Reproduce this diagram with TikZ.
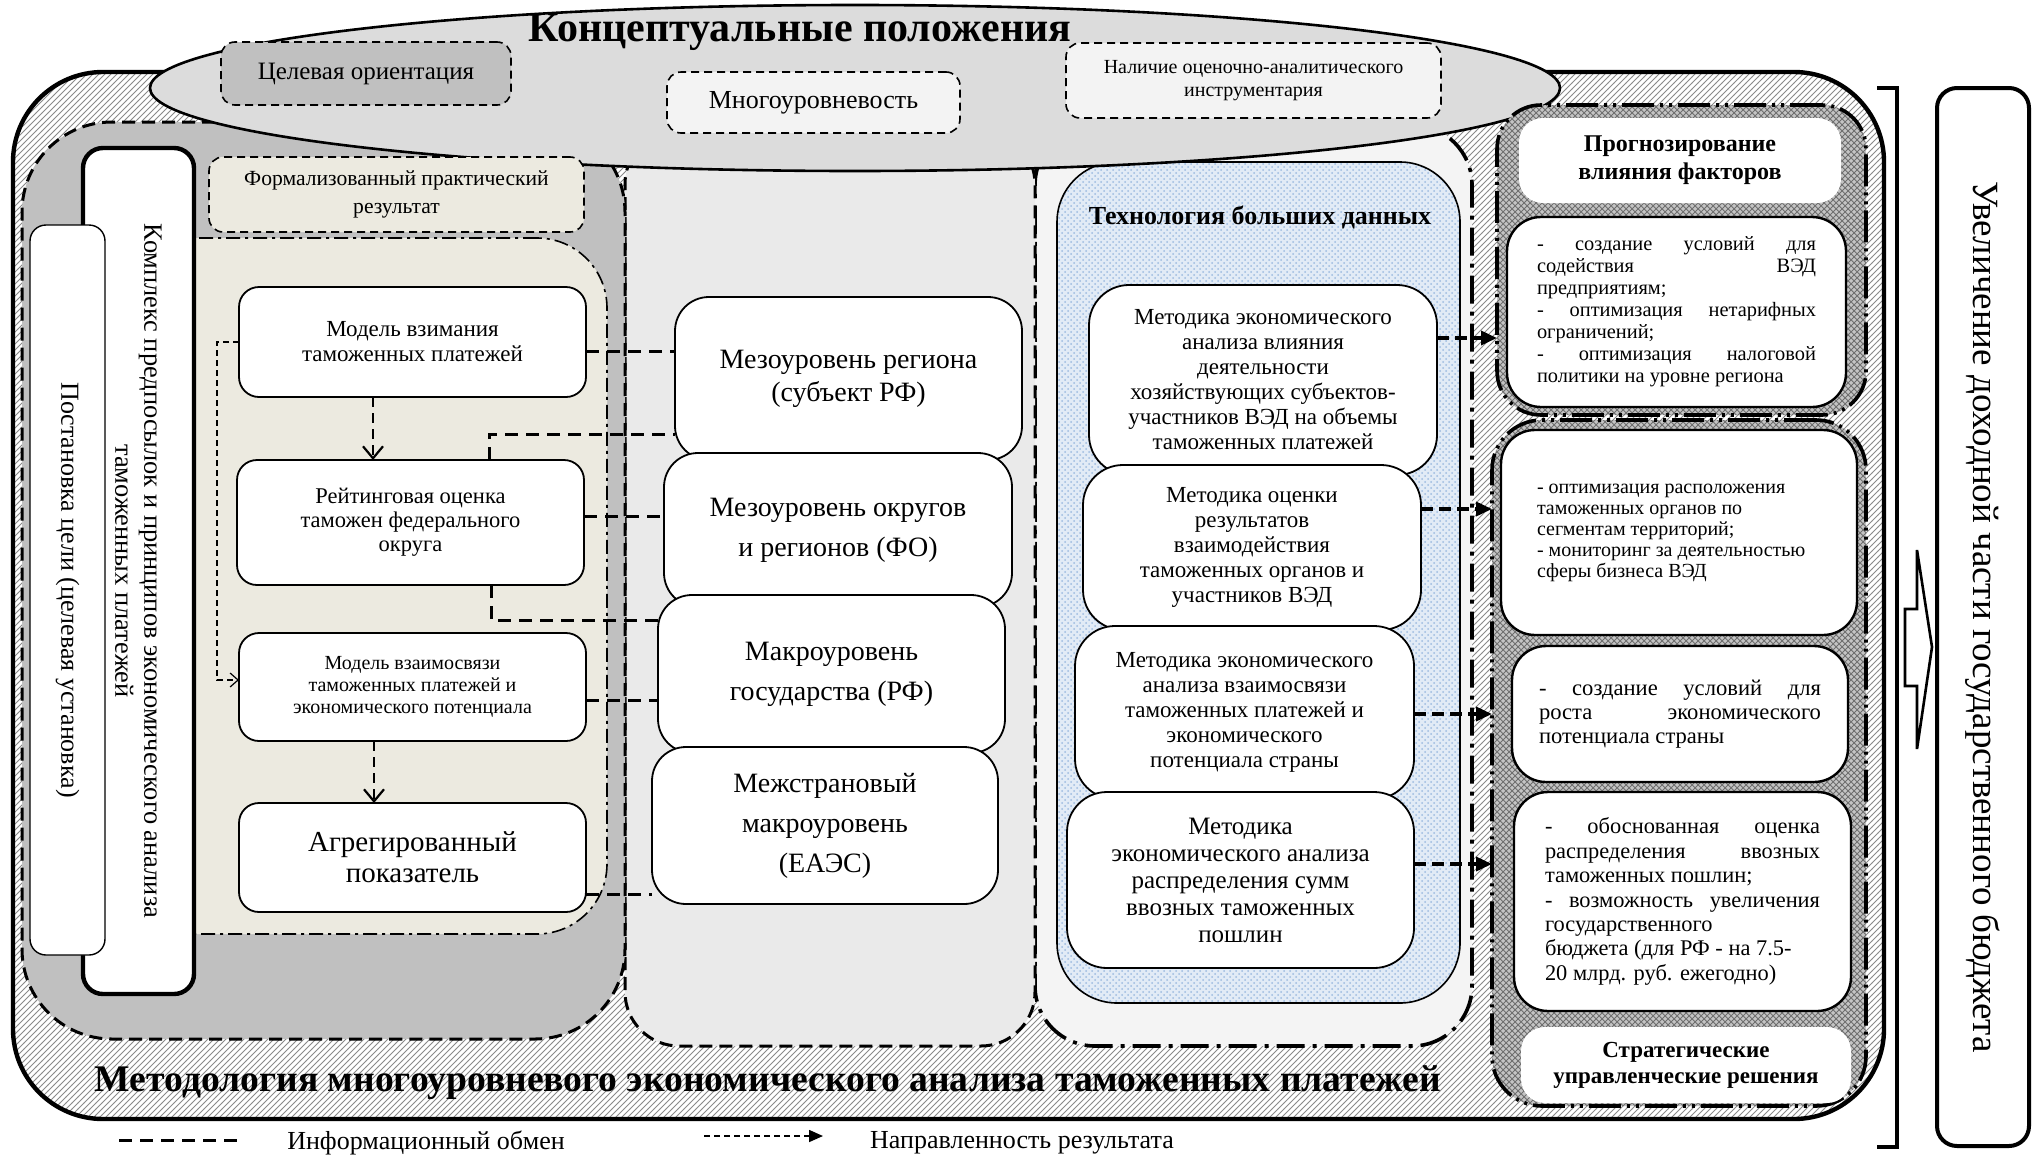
\documentclass[tikz,border=0pt]{standalone}
\usepackage{fontspec}
\setmainfont{Liberation Serif}
\usetikzlibrary{shapes.geometric,patterns,arrows.meta}
\definecolor{cgrey}{HTML}{C0C0C0}
\definecolor{cell}{HTML}{DCDCDC}
\definecolor{cbeige}{HTML}{ECEAE0}
\definecolor{cmid}{HTML}{EAEAEA}
\definecolor{ctech}{HTML}{F4F4F4}
\definecolor{cblue}{HTML}{E2EBF6}
\definecolor{cbluedot}{HTML}{9DBBE0}
\definecolor{cres}{HTML}{C4C4C4}
\definecolor{cresline}{HTML}{6E6E6E}
\definecolor{chatch}{HTML}{8A8A8A}
\definecolor{clight}{HTML}{F3F3F3}
\newcommand\mybox[7]{%
  \pgfmathsetmacro\bxcx{(#3+#5)/2}%
  \pgfmathsetmacro\bxcy{(#4+#6)/2}%
  \pgfmathsetmacro\bxw{(#5-#3)/2}%
  \pgfmathsetmacro\bxh{(#6-#4)/2}%
  \node[#1,minimum width=\bxw pt,minimum height=\bxh pt] (#2) at (\bxcx,\bxcy) {#7};%
}
\newcommand\myrbox[7]{%
  \pgfmathsetmacro\bxcx{(#3+#5)/2}%
  \pgfmathsetmacro\bxcy{(#4+#6)/2}%
  \pgfmathsetmacro\bxw{(#5-#3)/2}%
  \pgfmathsetmacro\bxh{(#6-#4)/2}%
  \node[#1,rotate=-90,minimum width=\bxh pt,minimum height=\bxw pt] (#2) at (\bxcx,\bxcy) {#7};%
}
\begin{document}
\begin{tikzpicture}[x=0.5pt,y=-0.5pt,
  bnode/.style={rectangle,inner sep=0pt,outer sep=0pt,align=center},
  fs/.style 2 args={font=\fontsize{#1}{#2}\selectfont},
  outerreg/.style={bnode,draw,line width=2.2pt,rounded corners=45pt,preaction={fill=white},pattern=north east lines,pattern color=chatch},
  resreg/.style={bnode,draw,line width=1.8pt,dash pattern=on 16pt off 3pt on 1.5pt off 3pt on 1.5pt off 3pt,preaction={fill=cres},pattern=crosshatch,pattern color=cresline},
  techreg/.style={bnode,draw,line width=1.8pt,dash pattern=on 14pt off 4pt on 2pt off 4pt,fill=ctech,rounded corners=30pt},
  bluereg/.style={bnode,draw,line width=0.8pt,rounded corners=30pt,preaction={fill=cblue},pattern=crosshatch dots,pattern color=cbluedot},
  midreg/.style={bnode,draw,line width=1.5pt,dash pattern=on 6.5pt off 3.5pt,fill=cmid,rounded corners=27pt},
  greyreg/.style={bnode,draw,line width=1.5pt,dash pattern=on 6.5pt off 3.5pt,fill=cgrey,rounded corners=45pt},
  beigereg/.style={bnode,draw,line width=0.8pt,dash pattern=on 7pt off 2.5pt on 1.5pt off 2.5pt,fill=cbeige,rounded corners=35pt},
  dbox/.style={bnode,draw,line width=0.8pt,dash pattern=on 4pt off 2.5pt,rounded corners=7pt},
  wbox/.style={bnode,draw,fill=white,line width=0.9pt,rounded corners=10pt},
  mbox/.style={wbox,rounded corners=17pt,fs={14}{20}},
  tbox/.style={wbox,rounded corners=20pt,fs={11.5}{12.5}},
  rbox/.style={bnode,draw,fill=white,line width=1.2pt,rounded corners=17pt},
  plainw/.style={bnode,fill=white,rounded corners=12pt},
  info/.style={line width=1.5pt,dash pattern=on 6.5pt off 4pt},
  resarr/.style={line width=1.1pt,dash pattern=on 5pt off 3pt,-{Straight Barb[length=6pt,width=10pt]}},
  thinarr/.style={line width=0.6pt,dash pattern=on 3pt off 2pt,-{Straight Barb[length=4pt,width=7pt]}},
  techarr/.style={line width=1.8pt,dash pattern=on 6pt off 3pt,-{Triangle[length=8pt,width=7pt]}},
  legarr/.style={line width=0.8pt,dash pattern=on 3pt off 2pt,-{Triangle[length=7pt,width=6pt]}}
]
\useasboundingbox (0,0) rectangle (2040,1157);
% outer hatched frame
\mybox{outerreg}{outer}{13}{72}{1884}{1119}{}
% regions
\mybox{techreg}{tech}{1035}{125}{1472}{1046}{}
\mybox{bluereg}{blue}{1057}{162}{1460}{1003}{}
\mybox{midreg}{mid}{625}{130}{1035}{1046}{}
\mybox{greyreg}{grey}{22}{122}{625}{1039}{}
% ellipse
\node[ellipse,draw,line width=1.3pt,fill=cell,minimum width=705pt,minimum height=83pt,inner sep=0pt] (concept) at (855,88) {};
\node[font=\fontsize{21}{23}\selectfont\bfseries,inner sep=0pt] (ctitle) at (800,32) {Концептуальные положения};
\mybox{dbox,fill=cgrey,fs={12.5}{14}}{E1}{221}{42}{511}{105}{Целевая ориентация}
\mybox{dbox,fill=clight,fs={13}{14}}{E2}{667}{72}{960}{133}{Многоуровневость}
\mybox{dbox,fill=clight,fs={10}{11.5}}{E3}{1066}{43}{1441}{118}{Наличие оценочно-аналитического\\инструментария}
% results regions
\mybox{resreg,rounded corners=22pt}{resTop}{1497}{105}{1866}{415}{}
\mybox{resreg,rounded corners=25pt}{resLow}{1492}{420}{1866}{1106}{}
% left column
\mybox{beigereg}{beige}{120}{238}{607}{934}{}
\mybox{dbox,fill=cbeige,fs={10.8}{14}}{formal}{209}{157}{584}{232}{Формализованный практический\\результат}
\myrbox{bnode,draw,fill=white,line width=2.2pt,rounded corners=10pt,fs={13.2}{14.5}}{kompl}{83}{148}{194}{994}{Комплекс предпосылок и принципов экономического анализа\\таможенных платежей}
\myrbox{bnode,draw,fill=white,line width=0.7pt,rounded corners=8pt,fs={13}{14}}{post}{30}{225}{105}{955}{Постановка цели (целевая установка)}
\mybox{wbox,fs={11.5}{12.5}}{L1}{239}{287}{586}{397}{Модель взимания\\таможенных платежей}
\mybox{wbox,fs={11.25}{12}}{L2}{237}{460}{584}{585}{Рейтинговая оценка\\таможен федерального\\округа}
\mybox{wbox,fs={10}{11}}{L3}{239}{633}{586}{741}{Модель взаимосвязи\\таможенных платежей и\\экономического потенциала}
\mybox{wbox,fs={14.5}{15.5}}{L4}{239}{803}{586}{912}{Агрегированный\\показатель}
% middle column
\mybox{mbox,fs={14}{16.5}}{M1}{675}{297}{1022}{460}{Мезоуровень региона\\(субъект РФ)}
\mybox{mbox}{M2}{664}{453}{1012}{607}{Мезоуровень округов\\и регионов (ФО)}
\mybox{mbox}{M3}{658}{595}{1005}{753}{Макроуровень\\государства (РФ)}
\mybox{mbox}{M4}{652}{747}{998}{904}{Межстрановый\\макроуровень\\(ЕАЭС)}
% technology column
\node[font=\fontsize{13}{14}\selectfont\bfseries,inner sep=0pt] (ttitle) at (1260,217) {Технология больших данных};
\mybox{tbox}{T1}{1089}{285}{1437}{475}{Методика экономического\\анализа влияния\\деятельности\\хозяйствующих субъектов-\\участников ВЭД на объемы\\таможенных платежей}
\mybox{tbox}{T2}{1083}{465}{1421}{630}{Методика оценки\\результатов\\взаимодействия\\таможенных органов и\\участников ВЭД}
\mybox{tbox}{T3}{1075}{626}{1414}{799}{Методика экономического\\анализа взаимосвязи\\таможенных платежей и\\экономического\\потенциала страны}
\mybox{tbox,fs={12.5}{13.5}}{T4}{1067}{792}{1414}{968}{Методика\\экономического анализа\\распределения сумм\\ввозных таможенных\\пошлин}
% results column
\mybox{plainw,font=\fontsize{12}{14}\selectfont\bfseries}{R0}{1519}{118}{1841}{203}{Прогнозирование\\влияния факторов}
\mybox{rbox,fs={10.2}{11},text width=139.5pt,align=flush left}{R1}{1507}{217}{1846}{407}{-\hfill создание\hfill условий\hfill для\\содействия\hfill ВЭД\\предприятиям;\\-\hfill оптимизация\hfill нетарифных\\ограничений;\\-\hfill оптимизация\hfill налоговой\\политики на уровне региона}
\mybox{rbox,fs={10}{10.5},text width=142pt,align=flush left}{R2}{1501}{430}{1857}{635}{- оптимизация расположения\\таможенных органов по\\сегментам территорий;\\- мониторинг за деятельностью\\сферы бизнеса ВЭД}
\mybox{rbox,fs={11.3}{12},text width=141pt,align=flush left}{R3}{1512}{646}{1848}{782}{-\hfill создание\hfill условий\hfill для\\роста\hfill экономического\\потенциала страны}
\mybox{rbox,fs={11.2}{12.2},text width=137.5pt,align=flush left}{R4}{1514}{792}{1851}{1011}{-\hfill обоснованная\hfill оценка\\распределения\hfill ввозных\\таможенных пошлин;\\-\hfill возможность\hfill увеличения\\государственного\\бюджета (для РФ - на 7.5-\\20 млрд. руб. ежегодно)}
\mybox{plainw,font=\fontsize{11.5}{13}\selectfont\bfseries}{R5}{1521}{1027}{1851}{1103}{Стратегические\\управленческие решения}
% information exchange connectors
\draw[info] (L1.east |- 0,351) -- (M1.west |- 0,351);
\draw[info] (L2.north -| 489,0) |- (M1.west |- 0,434);
\draw[info] (L2.east |- 0,516) -- (M2.west |- 0,516);
\draw[info] (L2.south -| 491,0) |- (M3.west |- 0,620);
\draw[info] (L3.east |- 0,700) -- (M3.west |- 0,700);
\draw[info] (L4.east |- 0,894) -- (M4.west |- 0,894);
% result direction arrows
\draw[resarr] (L1.south -| 373,0) -- (L2.north -| 373,0);
\draw[resarr] (L3.south -| 374,0) -- (L4.north -| 374,0);
\draw[thinarr] (L1.west |- 0,342) -| (217,680) -- (L3.west |- 0,680);
\draw[techarr] (T1.east |- 0,338) -- (resTop.west |- 0,338);
\draw[techarr] (T2.east |- 0,509) -- (resLow.west |- 0,509);
\draw[techarr] (T3.east |- 0,714) -- (resLow.west |- 0,714);
\draw[techarr] (T4.east |- 0,864) -- (resLow.west |- 0,864);
% methodology title
\node[font=\fontsize{18.8}{20}\selectfont\bfseries,inner sep=0pt] (method) at (768,1083) {Методология многоуровневого экономического анализа таможенных платежей};
% legend
\coordinate (lgA) at (119,1140);
\coordinate (lgB) at (242,1140);
\draw[info] (lgA) -- (lgB);
\node[fs={13}{14},inner sep=0pt] (lgT1) at (426,1143) {Информационный обмен};
\coordinate (lgC) at (704,1136);
\coordinate (lgD) at (823,1136);
\draw[legarr] (lgC) -- (lgD);
\node[fs={13}{14},inner sep=0pt] (lgT2) at (1022,1143) {Направленность результата};
% bracket and block arrow
\draw[line width=1.6pt] (1877,88) -- (1897,88) -- (1897,1147) -- (1877,1147);
\draw[line width=1.3pt,fill=white] (1905,609) -- (1917,609) -- (1917,550) -- (1932,647) -- (1917,749) -- (1917,686) -- (1905,686) -- cycle;
\myrbox{bnode,draw,fill=white,line width=2pt,rounded corners=10pt,fs={18.5}{20}}{RB}{1937}{88}{2029}{1146}{Увеличение доходной части государственного бюджета}
\end{tikzpicture}
\end{document}
